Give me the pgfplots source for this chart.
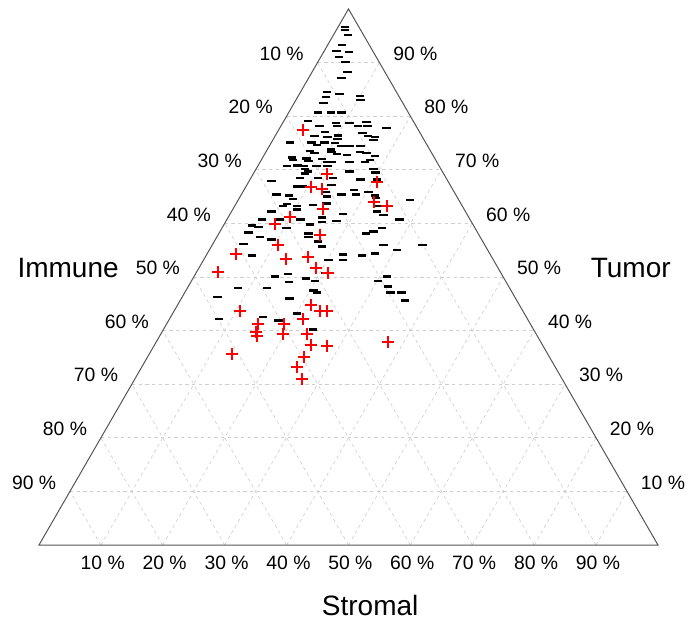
\documentclass[border=0pt]{standalone}
\usepackage{pgfplots}
\pgfplotsset{compat=1.18}
\usepackage{pgfplotstable}
\usepackage{fontspec}
\setmainfont{Liberation Sans}
\definecolor{gridc}{HTML}{CFCFCF}
\definecolor{edgec}{HTML}{555555}
% columns: S = Stromal %, T = Tumor %  (Immune = 100 - S - T)
\pgfplotstableread{
S T
1.1 96.6
1.4 96.1
2.4 95.1
2.3 93.3
2.0 92.1
4.1 92.0
3.0 91.0
4.5 90.1
5.7 88.2
5.3 87.1
4.3 84.5
6.5 84.1
10.0 83.7
10.4 83.0
4.6 83.6
4.8 82.4
4.7 80.7
6.8 80.7
8.5 80.7
3.9 79.1
6.3 78.1
8.6 78.7
9.1 78.1
10.8 78.7
12.5 78.1
13.5 78.9
14.0 78.1
17.2 77.8
7.7 77.0
10.1 76.4
8.6 76.1
10.4 75.7
6.4 76.3
13.9 76.8
15.0 76.3
16.2 76.1
3.0 75.1
6.5 75.1
8.6 75.1
10.3 75.0
13.0 74.4
14.7 74.4
7.6 74.6
10.3 73.8
11.7 74.4
16.3 75.5
7.0 73.5
8.0 73.1
10.6 73.3
11.7 72.9
15.2 73.3
16.4 73.1
18.0 72.5
4.7 72.3
5.1 71.8
7.2 72.1
7.7 71.6
9.7 72.0
10.8 71.4
11.6 71.4
14.5 71.4
17.0 71.4
17.6 71.8
4.7 70.7
6.4 70.8
7.4 70.7
7.9 70.1
9.5 70.7
11.3 70.7
8.3 69.3
8.6 69.7
15.3 69.7
19.0 70.1
19.6 69.5
13.4 72.7
3.6 67.9
8.0 68.4
10.9 68.4
17.8 68.2
20.5 68.2
13.3 68.4
9.1 66.9
13.7 67.1
13.5 65.8
14.0 65.0
16.2 65.4
17.8 66.2
18.5 65.4
20.3 65.8
21.7 65.2
5.7 65.4
7.8 65.2
8.8 64.5
7.8 63.2
10.1 63.2
22.1 64.7
8.3 66.9
27.8 64.3
8.3 63.6
12.6 63.4
14.6 63.7
23.0 63.2
23.5 62.2
6.5 62.2
10.4 62.6
18.3 61.7
24.9 61.5
27.9 60.7
5.7 60.7
8.6 60.7
11.9 60.7
15.2 61.1
17.9 60.4
4.6 59.6
5.8 59.3
10.4 59.1
13.9 59.8
15.6 60.2
25.9 59.1
24.8 58.5
23.8 58.1
4.7 58.3
7.0 57.4
14.5 58.1
14.8 57.4
9.1 57.0
16.8 56.6
17.9 55.7
27.7 55.9
30.3 55.1
34.0 55.9
5.0 56.1
7.4 54.0
22.0 54.2
25.2 54.0
20.2 53.1
22.6 53.1
27.1 54.4
13.1 50.1
15.0 50.5
18.3 49.7
20.0 49.2
20.8 50.8
15.9 49.0
30.2 49.2
31.2 50.1
32.3 48.2
33.2 47.1
35.0 47.1
36.3 45.6
8.2 47.9
12.9 47.9
5.7 46.2
17.5 46.0
20.6 47.5
21.4 47.1
8.0 42.2
14.9 42.6
17.7 41.9
20.1 43.2
24.2 40.2
}\blackdata
\pgfplotstableread{
S T
3.9 77.4
11.9 69.2
10.6 66.7
12.5 66.4
20.8 67.7
22.1 63.9
24.6 63.2
14.6 62.6
10.0 61.1
8.2 59.8
16.5 57.9
10.6 55.9
4.7 54.2
13.3 53.3
16.6 53.8
18.9 51.6
21.4 50.7
3.4 51.0
10.7 43.6
21.6 44.7
23.6 43.6
24.7 43.7
21.5 42.2
14.8 41.3
18.9 41.3
15.2 39.8
15.7 38.9
19.8 39.3
23.6 39.4
25.2 37.4
27.9 37.2
37.5 37.8
13.4 35.7
25.3 35.0
25.1 33.3
27.0 31.0
}\reddata
\begin{document}
\begin{tikzpicture}
\begin{axis}[
  hide axis,
  x=4.6425pt, y=4.6425pt,
  xmin=-6.30, xmax=104.85, ymin=-12.12, ymax=88.05,
  clip=false,
]
\path (axis cs:-6.30,-12.12) rectangle (axis cs:104.85,88.05);
\pgfplotsinvokeforeach{10,20,30,40,50,60,70,80,90}{
  \draw[gridc, line width=0.5pt, dash pattern=on 2.5pt off 2.5pt]
    (axis cs:{#1/2},{0.866025*#1}) -- (axis cs:{100-#1/2},{0.866025*#1});
  \draw[gridc, line width=0.5pt, dash pattern=on 2.5pt off 2.5pt]
    (axis cs:#1,0) -- (axis cs:{#1+(100-#1)/2},{0.866025*(100-#1)});
  \draw[gridc, line width=0.5pt, dash pattern=on 2.5pt off 2.5pt]
    (axis cs:#1,0) -- (axis cs:{#1/2},{0.866025*#1});
  \node[font=\fontsize{14.5}{16}\selectfont, inner sep=0pt, anchor=center]
    at (axis cs:{#1/2-5.8},{0.866025*#1+1.45}) {\the\numexpr100-#1\relax{} \%};
  \node[font=\fontsize{14.5}{16}\selectfont, inner sep=0pt, anchor=center]
    at (axis cs:{100-#1/2+5.8},{0.866025*#1+1.45}) {#1 \%};
  \node[font=\fontsize{14.5}{16}\selectfont, inner sep=0pt, anchor=center]
    at (axis cs:{#1+0.3},-2.9) {#1 \%};
}
\draw[edgec, line width=0.75pt] (axis cs:0,0) -- (axis cs:100,0) -- (axis cs:50,86.6025) -- cycle;
\node[font=\fontsize{21}{24}\selectfont, inner sep=0pt] at (axis cs:4.7,44.75) {Immune};
\node[font=\fontsize{21}{24}\selectfont, inner sep=0pt] at (axis cs:95.6,44.75) {Tumor};
\node[font=\fontsize{21}{24}\selectfont, inner sep=0pt] at (axis cs:53.5,-9.7) {Stromal};
\addplot[only marks, mark=-, black, mark size=3.2pt, mark options={line width=1.7pt}]
  table[x expr=\thisrow{S}+0.5*\thisrow{T}, y expr=0.866025*\thisrow{T}] {\blackdata};
\addplot[only marks, mark=+, red, mark size=4.5pt, mark options={line width=1.5pt}]
  table[x expr=\thisrow{S}+0.5*\thisrow{T}, y expr=0.866025*\thisrow{T}] {\reddata};
\end{axis}
\end{tikzpicture}
\end{document}
